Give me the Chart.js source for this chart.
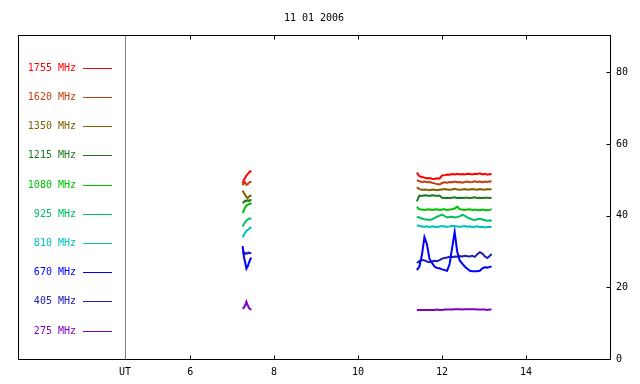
<!DOCTYPE html>
<html>
<head>
<meta charset="utf-8">
<script src="https://cdn.jsdelivr.net/npm/chart.js@4"></script>
<style>
  html, body { margin: 0; padding: 0; background: #fff; }
  #wrap { width: 640px; height: 384px; }
</style>
</head>
<body>
<div id="wrap"><canvas id="chart" width="640" height="384"></canvas></div>
<script>
// タイトルと軸
const chartTitle = '11 01 2006';
const xTickValues = [4.45, 6, 8, 10, 12, 14];
const xTickLabels = ['UT', '6', '8', '10', '12', '14'];
const yTickValues = [0, 20, 40, 60, 80];

// 観測時刻 (UT)
const earlyTimes = [7.25, 7.28, 7.31, 7.34, 7.37, 7.40, 7.43, 7.46];
const lateTimes = [11.40, 11.46, 11.52, 11.58, 11.64, 11.70, 11.76, 11.82, 11.88, 11.94,
    12.00, 12.06, 12.12, 12.18, 12.24, 12.30, 12.36, 12.42, 12.48, 12.54,
    12.60, 12.66, 12.72, 12.78, 12.84, 12.90, 12.96, 13.02, 13.08, 13.14, 13.18];

// 周波数ラベルと色
const freqLabels = ['1755 MHz', '1620 MHz', '1350 MHz', '1215 MHz', '1080 MHz',
    '925 MHz', '810 MHz', '670 MHz', '405 MHz', '275 MHz'];
const freqColors = ['#ff0000', '#c04010', '#806000', '#207820', '#00c000',
    '#00c060', '#00c0c0', '#0000ff', '#2020b0', '#8000c0'];

// 各周波数の値
const f1755Early = [49.0, 50.0, 50.5, 51.2, 51.6, 52.0, 52.4, 52.2];
const f1755Late = [52.0, 51.0, 50.8, 50.6, 50.4, 50.5, 50.3, 50.2, 50.4, 50.3, 51.2, 51.3, 51.5, 51.4, 51.6, 51.5,
    51.7, 51.5, 51.6, 51.5, 51.7, 51.6, 51.5, 51.7, 51.6, 51.8, 51.5, 51.7, 51.4, 51.6, 51.5];
const f1620Early = [48.5, 49.0, 49.3, 48.6, 48.8, 49.2, 49.4, 49.5];
const f1620Late = [49.9, 49.6, 49.4, 49.5, 49.3, 49.4, 49.2, 49.0, 48.8, 48.7, 49.1, 49.3, 49.2, 49.4, 49.3, 49.5,
    49.3, 49.4, 49.2, 49.4, 49.5, 49.3, 49.4, 49.6, 49.4, 49.5, 49.3, 49.5, 49.4, 49.6, 49.5];
const f1350Early = [47.0, 46.3, 45.8, 45.2, 44.9, 45.3, 45.6, 45.5];
const f1350Late = [47.9, 47.4, 47.2, 47.3, 47.2, 47.1, 47.3, 47.2, 47.1, 47.2, 47.3, 47.4, 47.3, 47.2, 47.3, 47.5,
    47.3, 47.2, 47.3, 47.4, 47.2, 47.3, 47.4, 47.3, 47.2, 47.4, 47.3, 47.2, 47.4, 47.3, 47.4];
const f1215Early = [43.5, 43.8, 44.2, 44.0, 44.3, 44.1, 44.4, 44.2];
const f1215Late = [44.0, 45.6, 45.5, 45.7, 45.6, 45.5, 45.7, 45.6, 45.5, 45.6, 45.0, 44.9, 45.0, 44.9, 45.0, 45.1,
    44.9, 45.0, 44.9, 45.0, 45.0, 44.9, 45.0, 45.1, 44.9, 45.0, 44.9, 45.0, 45.0, 44.9, 45.0];
const f1080Early = [40.7, 41.5, 42.3, 42.8, 43.0, 43.2, 43.4, 43.2];
const f1080Late = [42.4, 41.8, 41.7, 41.6, 41.7, 41.8, 41.6, 41.7, 41.8, 41.6, 41.7, 41.8, 41.6, 41.7, 41.8, 42.0,
    42.5, 41.8, 41.7, 41.6, 41.7, 41.8, 41.6, 41.7, 41.6, 41.5, 41.7, 41.6, 41.5, 41.6, 41.8];
const f925Early = [37.0, 37.6, 38.2, 38.6, 38.9, 39.1, 39.2, 39.2];
const f925Late = [39.6, 39.5, 39.2, 39.0, 38.9, 38.8, 39.0, 39.3, 39.7, 40.0, 40.3, 39.9, 39.5, 39.6, 39.7, 39.5,
    39.6, 39.8, 40.2, 40.0, 39.5, 39.2, 38.9, 38.8, 39.0, 39.1, 38.9, 38.7, 38.6, 38.7, 38.5];
const f810Early = [34.0, 34.6, 35.2, 35.7, 36.0, 36.3, 36.6, 36.8];
const f810Late = [37.3, 37.1, 37.0, 36.9, 37.0, 36.8, 37.0, 36.9, 36.8, 37.0, 37.1, 37.0, 36.9, 37.0, 37.2, 37.1,
    37.0, 36.9, 37.0, 37.1, 36.9, 37.0, 36.8, 36.9, 37.0, 36.8, 36.9, 36.7, 36.8, 36.9, 36.8];
const f670Early = [31.5, 28.5, 27.0, 25.2, 25.8, 26.8, 27.8, 28.3];
const f670Late = [24.8, 25.8, 29.0, 34.0, 32.0, 28.0, 26.8, 25.8, 25.4, 25.3, 25.0, 24.8, 24.6, 26.5, 31.0, 35.5,
    30.0, 27.5, 26.6, 25.8, 25.2, 24.6, 24.5, 24.5, 24.5, 24.6, 25.3, 25.6, 25.5, 25.7, 25.8];
const f405Early = [29.5, 29.8, 29.3, 29.6, 29.4, 29.7, 29.5, 29.6];
const f405Late = [26.8, 27.3, 27.7, 27.5, 27.2, 27.0, 27.2, 27.4, 27.3, 27.6, 28.0, 28.2, 28.3, 28.5, 28.4, 28.6,
    28.5, 28.7, 28.6, 28.8, 28.7, 28.6, 28.8, 28.5, 29.2, 29.8, 29.4, 28.6, 28.2, 28.8, 29.3];
const f275Early = [14.0, 14.3, 15.0, 16.0, 15.0, 14.3, 13.9, 13.8];
const f275Late = [13.7, 13.7, 13.7, 13.7, 13.7, 13.7, 13.7, 13.7, 13.8, 13.7, 13.7, 13.8, 13.8, 13.8, 13.8, 13.9,
    13.9, 13.9, 13.8, 13.9, 13.9, 13.9, 13.9, 13.9, 13.8, 13.8, 13.8, 13.8, 13.7, 13.8, 13.8];

const earlySeries = [f1755Early, f1620Early, f1350Early, f1215Early, f1080Early,
    f925Early, f810Early, f670Early, f405Early, f275Early];
const lateSeries = [f1755Late, f1620Late, f1350Late, f1215Late, f1080Late,
    f925Late, f810Late, f670Late, f405Late, f275Late];

const monoFont = { family: '"DejaVu Sans Mono", monospace', size: 10 };

// 2つの観測区間を null で区切って連結
function buildPoints(early, late) {
    const pts = earlyTimes.map((t, i) => ({ x: t, y: early[i] }));
    pts.push({ x: 9.5, y: null });
    lateTimes.forEach((t, i) => pts.push({ x: t, y: late[i] }));
    return pts;
}

const datasets = freqLabels.map((label, i) => ({
    label: label,
    data: buildPoints(earlySeries[i], lateSeries[i]),
    borderColor: freqColors[i],
    backgroundColor: freqColors[i],
    borderWidth: 2,
    pointRadius: 0,
    tension: 0,
    spanGaps: false
}));

// 枠・内向き目盛り・UT線・凡例・タイトルを描く
const framePlugin = {
    id: 'framePlugin',
    beforeDatasetsDraw(chart) {
        const { ctx, chartArea, scales } = chart;
        const xUT = scales.x.getPixelForValue(xTickValues[0]);
        ctx.save();
        ctx.strokeStyle = '#808080';
        ctx.lineWidth = 1;
        ctx.beginPath();
        ctx.moveTo(Math.round(xUT) + 0.5, chartArea.top);
        ctx.lineTo(Math.round(xUT) + 0.5, chartArea.bottom);
        ctx.stroke();
        ctx.restore();
    },
    afterDatasetsDraw(chart) {
        const { ctx, chartArea, scales } = chart;
        const l = Math.round(chartArea.left) + 0.5;
        const r = Math.round(chartArea.right) + 0.5;
        const t = Math.round(chartArea.top) + 0.5;
        const b = Math.round(chartArea.bottom) + 0.5;
        ctx.save();
        ctx.strokeStyle = '#000';
        ctx.lineWidth = 1;
        ctx.strokeRect(l, t, r - l, b - t);

        // 目盛り
        ctx.beginPath();
        xTickValues.slice(1).forEach(v => {
            const x = Math.round(scales.x.getPixelForValue(v)) + 0.5;
            ctx.moveTo(x, b); ctx.lineTo(x, b - 4);
            ctx.moveTo(x, t); ctx.lineTo(x, t + 4);
        });
        yTickValues.forEach(v => {
            const y = Math.round(scales.y.getPixelForValue(v)) + 0.5;
            ctx.moveTo(r, y); ctx.lineTo(r - 4, y);
        });
        ctx.stroke();

        // 凡例
        ctx.font = '10px "DejaVu Sans Mono", monospace';
        ctx.textBaseline = 'middle';
        ctx.textAlign = 'right';
        chart.data.datasets.forEach((ds, i) => {
            const y = Math.round(chartArea.top + 32.7 + i * 29.2) + 0.5;
            ctx.fillStyle = ds.borderColor;
            ctx.fillText(ds.label, 76, y);
            ctx.strokeStyle = ds.borderColor;
            ctx.beginPath();
            ctx.moveTo(83, y);
            ctx.lineTo(112, y);
            ctx.stroke();
        });

        // タイトル
        ctx.fillStyle = '#000';
        ctx.textAlign = 'center';
        ctx.fillText(chartTitle, (chartArea.left + chartArea.right) / 2, 18);
        ctx.restore();
    }
};

const chart = new Chart(document.getElementById('chart'), {
    type: 'line',
    data: { datasets: datasets },
    options: {
        responsive: false,
        animation: false,
        layout: { padding: { left: 18, top: 35, right: 0, bottom: 0 } },
        plugins: {
            legend: { display: false },
            title: { display: false },
            tooltip: { enabled: false }
        },
        scales: {
            x: {
                type: 'linear',
                min: 1.9,
                max: 16,
                afterBuildTicks: scale => { scale.ticks = xTickValues.map(v => ({ value: v })); },
                afterFit: scale => { scale.height = 25; },
                grid: { display: false, drawTicks: false },
                border: { display: false },
                ticks: {
                    autoSkip: false,
                    maxRotation: 0,
                    padding: 7,
                    color: '#000',
                    font: monoFont,
                    callback: (value, index) => xTickLabels[index]
                }
            },
            y: {
                position: 'right',
                min: 0,
                max: 90.4,
                afterBuildTicks: scale => { scale.ticks = yTickValues.map(v => ({ value: v })); },
                afterFit: scale => { scale.width = 30; },
                grid: { display: false, drawTicks: false },
                border: { display: false },
                ticks: {
                    padding: 6,
                    color: '#000',
                    font: monoFont,
                    callback: value => String(value)
                }
            }
        }
    },
    plugins: [framePlugin]
});
</script>
</body>
</html>
